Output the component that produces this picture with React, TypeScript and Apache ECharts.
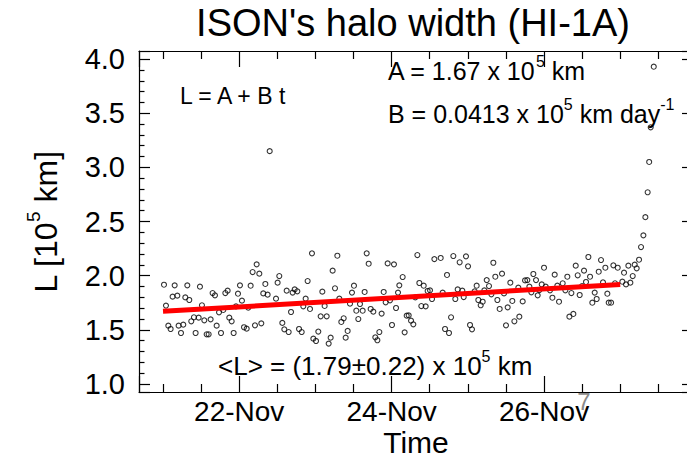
import React, { useEffect, useRef } from "react";
import * as echarts from "echarts";

const FONT = "'Liberation Sans', Arial, Helvetica, sans-serif";

const TITLE = "ISON's halo width (HI-1A)";
const X_NAME = "Time";
const MONTH = "Nov";
const PAGE_MARK = "7";

// axis ranges (day of November, L in 10^5 km)
const X_MIN = 20.685;
const X_MAX = 27.955;
const Y_MIN = 0.925;
const Y_MAX = 4.075;

// linear fit L = A + B t (t in days since FIT_T0)
const FIT_A = 1.67;
const FIT_B = 0.0413;
const FIT_T0 = 21.0;
const FIT_T1 = 27.0;

// observations: time (day of November 2013) and halo width L
const obsDay = [
  21.013, 21.039, 21.07, 21.1, 21.126, 21.153, 21.188, 21.205, 21.236, 21.266,
  21.293, 21.319, 21.345, 21.371, 21.406, 21.428, 21.468, 21.485, 21.511, 21.542,
  21.573, 21.599, 21.625, 21.651, 21.682, 21.704, 21.735, 21.761, 21.791, 21.818,
  21.848, 21.87, 21.901, 21.927, 21.958, 21.984, 22.01, 22.036, 22.063, 22.098,
  22.119, 22.15, 22.176, 22.207, 22.229, 22.264, 22.29, 22.316, 22.343, 22.373,
  22.4, 22.483, 22.504, 22.526,
  22.566, 22.592, 22.623, 22.649, 22.68, 22.701, 22.728, 22.763, 22.785, 22.82,
  22.841, 22.872, 22.898, 22.929, 22.955, 22.973, 23.008, 23.038, 23.069, 23.091,
  23.121, 23.148, 23.174, 23.2, 23.226, 23.257, 23.288, 23.314, 23.34, 23.371,
  23.397, 23.423, 23.454, 23.48, 23.506, 23.537, 23.563, 23.585, 23.62, 23.646,
  23.673, 23.699, 23.725, 23.76, 23.786, 23.813, 23.839, 23.869, 23.896, 23.922,
  23.948, 23.979, 24.005, 24.031, 24.058, 24.084, 24.101,
  24.145, 24.171, 24.198, 24.224, 24.255, 24.285, 24.311, 24.338, 24.364, 24.39,
  24.421, 24.447, 24.473, 24.504, 24.53, 24.561, 24.644, 24.67, 24.701, 24.727,
  24.753, 24.78, 24.81, 24.836, 24.867, 24.893, 24.928, 24.946, 24.976, 25.003,
  25.029, 25.055, 25.09, 25.116, 25.138, 25.169, 25.195, 25.217, 25.248, 25.278,
  25.309, 25.335, 25.361, 25.388, 25.418, 25.449, 25.475, 25.501, 25.523, 25.558,
  25.584, 25.611, 25.663, 25.676,
  25.72, 25.751, 25.781, 25.808, 25.834, 25.86, 25.895, 25.917, 25.939, 25.97,
  26.0, 26.022, 26.079, 26.11, 26.14, 26.175, 26.197, 26.245, 26.28, 26.306,
  26.333, 26.359, 26.385, 26.416, 26.442, 26.468, 26.499, 26.525, 26.551, 26.582,
  26.604, 26.634, 26.665, 26.691, 26.718, 26.748, 26.774, 26.805, 26.831, 26.849,
  26.88, 26.91, 26.932, 26.967, 27.028, 27.05, 27.076, 27.107, 27.133, 27.164,
  27.19, 27.216, 27.247, 27.273, 27.304, 27.33, 27.36, 27.38, 27.4, 27.44,
];

const obsL = [
  1.916, 1.723, 1.538, 1.507, 1.806, 1.91, 1.815, 1.538, 1.47, 1.547,
  1.799, 1.91, 1.775, 1.578, 1.615, 1.47, 1.612, 1.898, 1.726, 1.587,
  1.458, 1.458, 1.596, 1.839, 1.818, 1.538, 1.661, 1.47, 1.683, 1.839,
  1.861, 1.612, 1.578, 1.47, 1.716, 1.833, 1.91, 1.769, 1.523, 1.51,
  1.704, 1.907, 2.033, 1.541, 2.104, 2.018, 1.559, 1.836, 1.923, 1.824,
  3.15, 1.787, 1.935, 1.996,
  1.563, 1.504, 1.861, 1.479, 1.664, 1.843, 1.873, 1.855, 1.507, 1.479,
  1.716, 1.787, 1.95, 1.692, 2.206, 1.418, 1.396, 1.483, 1.624, 1.852,
  1.72, 1.624, 1.372, 1.427, 2.046, 1.883, 2.184, 1.787, 1.572, 1.606,
  1.427, 1.489, 1.741, 1.843, 1.907, 1.676, 1.599, 1.738, 1.676, 1.849,
  2.206, 2.11, 1.692, 1.667, 1.43, 1.403, 1.479, 1.649, 1.849, 1.753,
  2.113, 1.772, 1.544, 2.104, 1.701, 1.843, 1.91,
  1.987, 1.476, 1.63, 1.633, 1.584, 1.55, 1.799, 2.19, 1.932, 1.719,
  1.907, 1.716, 1.858, 1.864, 1.784, 2.153, 2.163, 1.843, 1.507, 2.006,
  1.47, 1.615, 2.181, 1.784, 1.873, 2.123, 1.861, 1.802, 2.178, 2.086,
  1.544, 1.504, 1.855, 1.907, 1.775, 1.726, 1.759, 1.864, 1.959, 1.904,
  1.827, 2.119, 1.99, 1.775, 1.692, 2.018, 1.836, 1.541, 1.707, 1.935,
  1.766, 1.578, 1.889, 1.621,
  1.762, 1.956, 1.959, 1.898, 1.846, 2.015, 1.959, 1.818, 1.867, 1.919,
  2.073, 1.898, 1.864, 1.796, 2.009, 1.907, 1.759, 1.929, 1.864, 1.99,
  1.621, 1.839, 1.646, 2.092, 2.003, 1.821, 1.904, 2.046, 1.941, 2.172,
  1.99, 1.75, 1.843, 1.784, 2.036, 2.144, 1.938, 2.073, 1.833, 1.75,
  1.75, 2.095, 1.929, 2.073, 1.944, 2.027, 1.919, 2.092, 1.935, 1.996,
  2.101, 2.067, 2.147, 2.264, 2.372, 2.54, 2.77, 3.05, 3.37, 3.93,
];

const LINE = { color: "#000", width: 1.2 };

function xLabel(v: number) {
  const r = Math.round(v);
  if (Math.abs(v - r) < 1e-6 && r % 2 === 0) return `${r}-${MONTH}`;
  return "";
}
function yLabel(v: number) {
  const r = Math.round(v * 2);
  if (Math.abs(v * 2 - r) < 1e-6) return (r / 2).toFixed(1);
  return "";
}

function xAxisDef(pos: "bottom" | "top") {
  return {
    type: "value",
    position: pos,
    min: X_MIN,
    max: X_MAX,
    splitNumber: 4,
    axisLine: { show: true, onZero: false, lineStyle: LINE },
    axisTick: { show: true, inside: true, length: 16, lineStyle: LINE },
    minorTick: { show: true, splitNumber: 4, length: 8, lineStyle: LINE },
    splitLine: { show: false },
    minorSplitLine: { show: false },
    axisLabel: {
      show: pos === "bottom",
      formatter: xLabel,
      fontSize: 28,
      lineHeight: 28,
      fontFamily: FONT,
      color: "#000",
      margin: 5,
    },
  };
}

function yAxisDef(pos: "left" | "right") {
  return {
    type: "value",
    position: pos,
    min: Y_MIN,
    max: Y_MAX,
    splitNumber: 6,
    axisLine: { show: true, onZero: false, lineStyle: LINE },
    axisTick: { show: true, inside: true, length: 11, lineStyle: LINE },
    minorTick: { show: true, splitNumber: 5, length: 5.5, lineStyle: LINE },
    splitLine: { show: false },
    minorSplitLine: { show: false },
    axisLabel: {
      show: pos === "left",
      formatter: yLabel,
      fontSize: 29,
      fontFamily: FONT,
      color: "#000",
      margin: 14,
    },
  };
}

function richStyles(size: number) {
  return {
    m: { fontSize: size, fontFamily: FONT, fill: "#000", color: "#000", lineHeight: size + 10 },
    s: { fontSize: Math.round(size * 0.62), fontFamily: FONT, fill: "#000", color: "#000", lineHeight: Math.round(size * 0.62), verticalAlign: "top" },
  };
}

function textEl(x: number, y: number, text: string, size: number) {
  return {
    type: "text",
    x,
    y,
    silent: true,
    style: {
      text,
      rich: richStyles(size),
      fontSize: size,
      fontFamily: FONT,
      fill: "#000",
      align: "left",
      verticalAlign: "middle",
    },
  };
}

export default function App() {
  const ref = useRef<HTMLDivElement>(null);
  useEffect(() => {
    if (!ref.current) return;
    const chart = echarts.init(ref.current, null, { renderer: "svg" });
    const points = obsDay.map((d, i) => [d, obsL[i]]);
    const fit = [
      [FIT_T0, FIT_A],
      [FIT_T1, FIT_A + FIT_B * (FIT_T1 - FIT_T0)],
    ];
    chart.setOption({
      animation: false,
      backgroundColor: "#fff",
      grid: { left: 139, top: 51, width: 554, height: 341, containLabel: false, outerBoundsMode: "none" },
      xAxis: [xAxisDef("bottom"), xAxisDef("top")],
      yAxis: [yAxisDef("left"), yAxisDef("right")],
      series: [
        {
          type: "scatter",
          data: points,
          symbol: "circle",
          symbolSize: 5,
          itemStyle: { color: "rgba(0,0,0,0)", borderColor: "#000", borderWidth: 1.1 },
          silent: true,
        },
        {
          type: "line",
          data: fit,
          showSymbol: false,
          symbol: "none",
          lineStyle: { color: "#ff0000", width: 5 },
          silent: true,
          z: 3,
        },
      ],
      graphic: [
        {
          type: "text",
          x: 413,
          y: 4,
          silent: true,
          style: { text: TITLE, fontSize: 38, fontFamily: FONT, fill: "#000", align: "center", verticalAlign: "top" },
        },
        {
          type: "text",
          x: 416,
          y: 442,
          silent: true,
          style: { text: X_NAME, fontSize: 30, lineHeight: 30, fontFamily: FONT, fill: "#000", align: "center", verticalAlign: "middle" },
        },
        {
          type: "text",
          x: 46,
          y: 222,
          rotation: Math.PI / 2,
          silent: true,
          style: {
            text: "{m|L [10}{s|5}{m| km]}",
            rich: {
              m: { fontSize: 32, fontFamily: FONT, fill: "#000", color: "#000", lineHeight: 44 },
              s: { fontSize: 19, fontFamily: FONT, fill: "#000", color: "#000", lineHeight: 19, verticalAlign: "top" },
            },
            align: "center",
            verticalAlign: "middle",
          },
        },
        textEl(180, 96, "{m|L = A + B t}", 23),
        textEl(388, 71, "{m|A = 1.67 x 10}{s|5}{m| km}", 25),
        textEl(388, 114, "{m|B = 0.0413 x 10}{s|5}{m| km day}{s|-1}", 25),
        textEl(218, 366, "{m|<L> = (1.79±0.22) x 10}{s|5}{m| km}", 26),
        {
          type: "text",
          x: 584,
          y: 401,
          silent: true,
          style: { text: PAGE_MARK, fontSize: 24, fontFamily: FONT, fill: "#8a8a8a", align: "center", verticalAlign: "middle" },
        },
      ],
    });
    return () => chart.dispose();
  }, []);
  return (
    <div
      ref={ref}
      style={{ width: 687, height: 458, position: "absolute", left: 0, top: 0 }}
    />
  );
}
